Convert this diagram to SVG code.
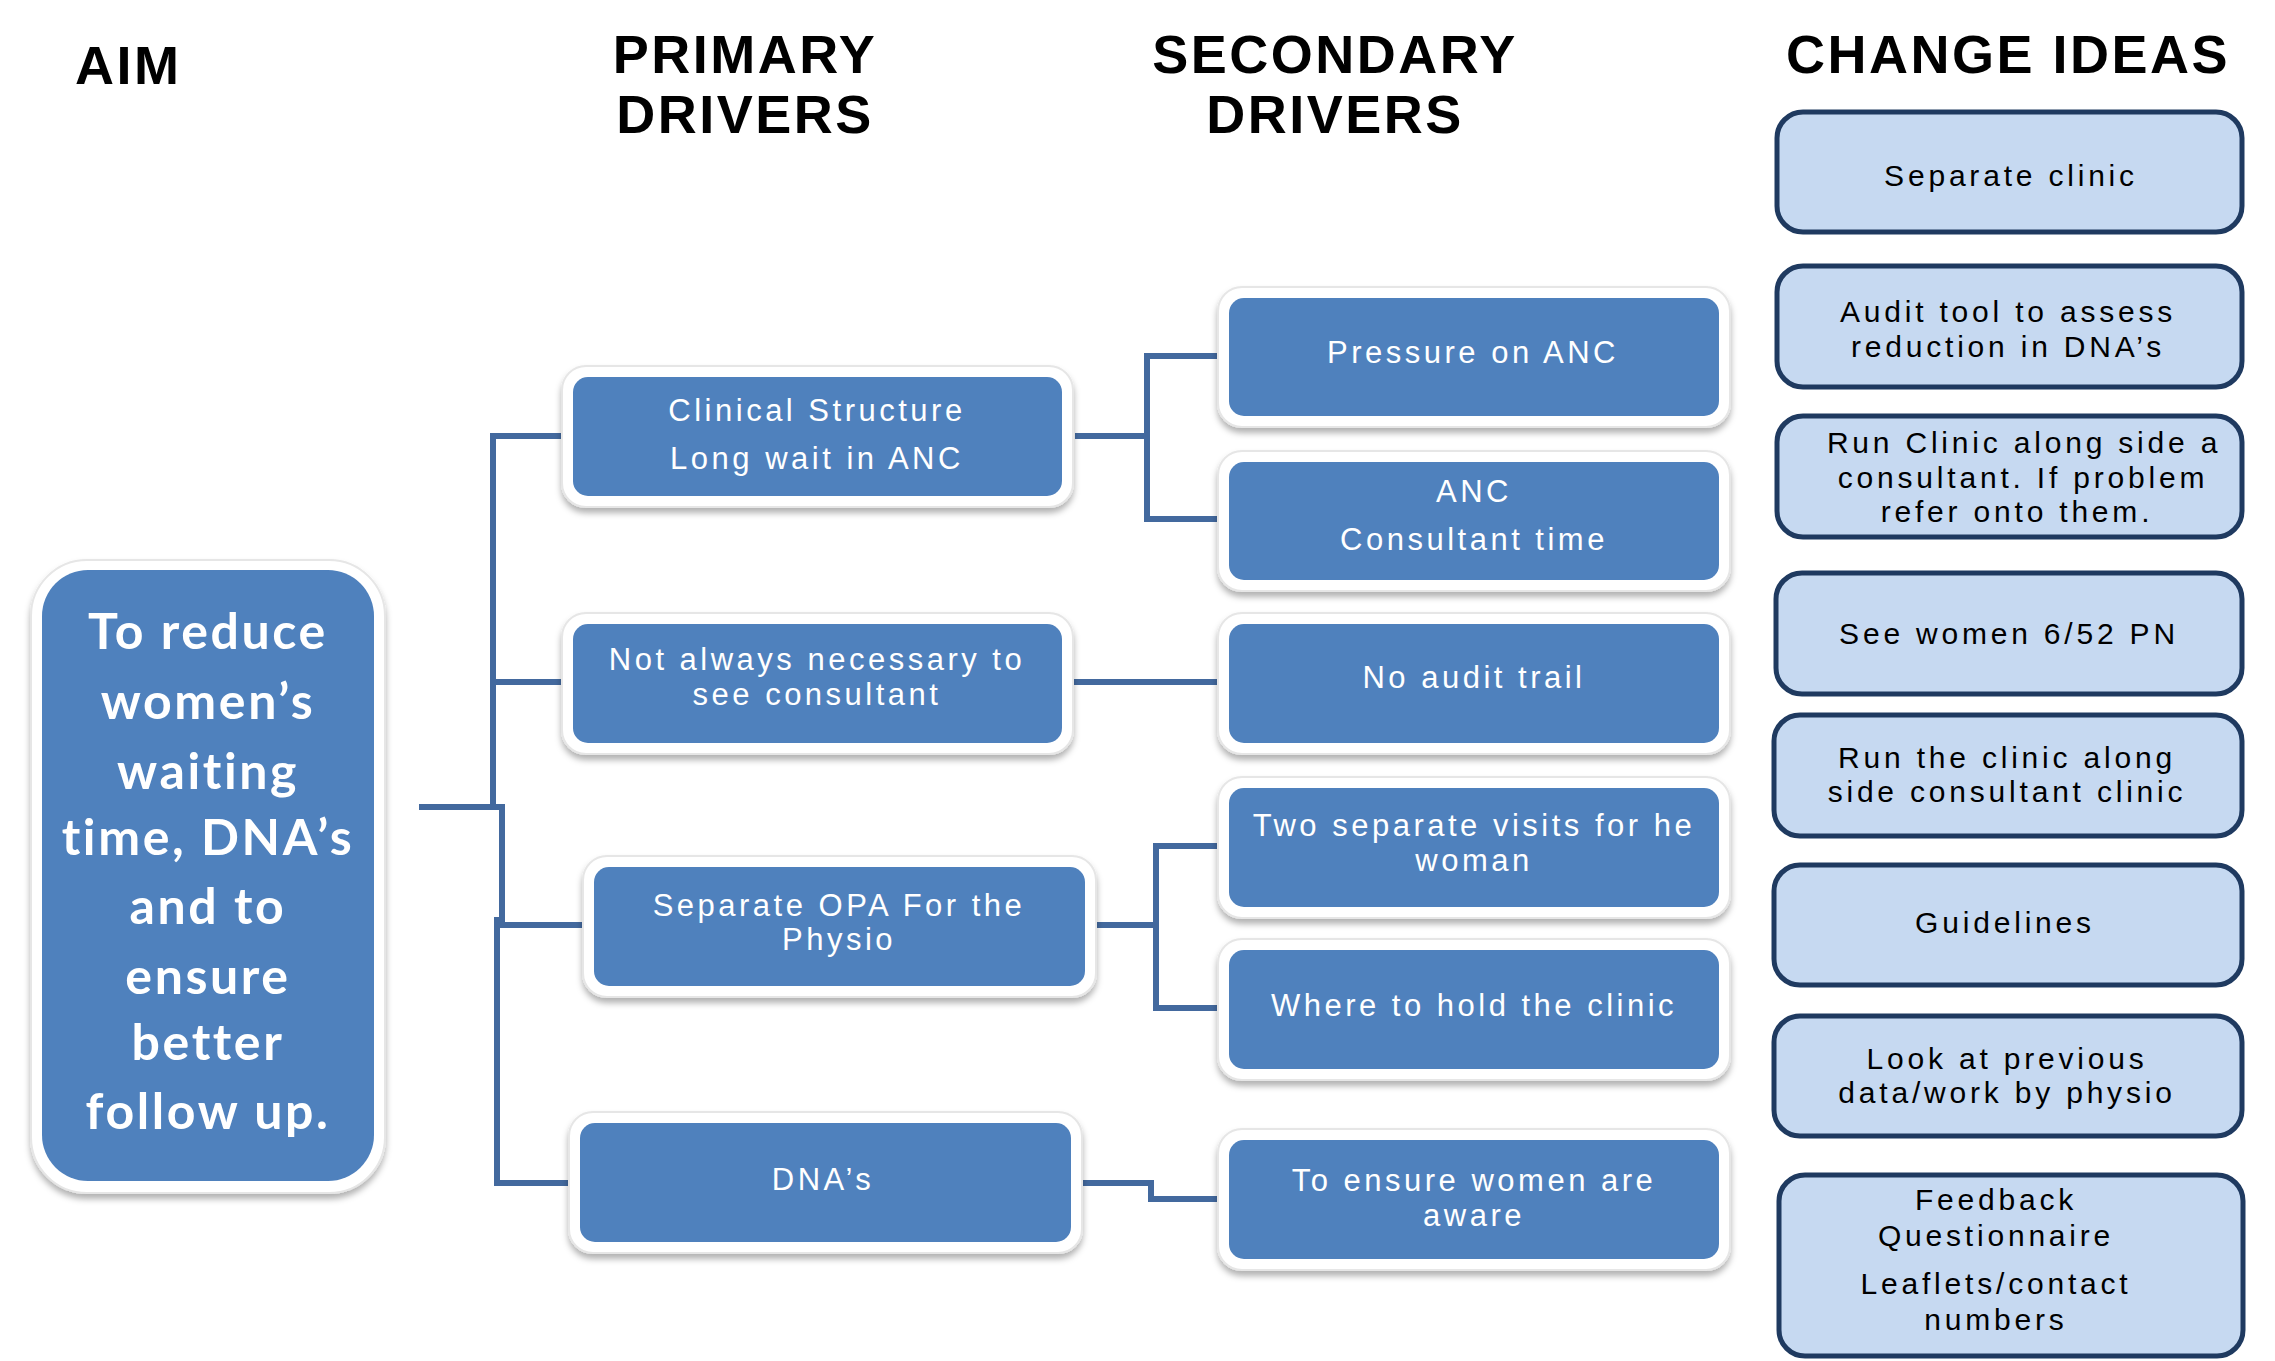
<svg xmlns="http://www.w3.org/2000/svg" width="2275" height="1361" viewBox="0 0 2275 1361">
<defs>
<filter id="sh" x="-10%" y="-10%" width="120%" height="130%">
<feDropShadow dx="0" dy="5" stdDeviation="3" flood-color="#000" flood-opacity="0.3"/>
</filter>
<style>
.hdr{font-family:"Liberation Sans",Arial,sans-serif;font-weight:bold;font-size:54px;letter-spacing:2.5px;fill:#000;}
.outer{fill:#fff;stroke:#e6e6e6;stroke-width:2;filter:url(#sh);}
.blue{fill:#4f81bd;}
.wt{font-family:"Liberation Sans",Arial,sans-serif;font-size:31px;fill:#fff;letter-spacing:3.5px;text-anchor:middle;}
.aimt{font-family:Lato,"Open Sans",sans-serif;font-weight:bold;font-size:50px;fill:#fff;letter-spacing:2.6px;text-anchor:middle;}
.idea{fill:#c6d9f1;stroke:#1f3a60;stroke-width:5;}
.bt{font-family:"Liberation Sans",Arial,sans-serif;font-size:30px;fill:#000;letter-spacing:3.8px;text-anchor:middle;}
.con{fill:none;stroke:#43699e;stroke-width:6;}
</style>
</defs>
<rect width="2275" height="1361" fill="#fff"/>

<g id="headers">
<text class="hdr" x="75" y="84">AIM</text>
<text class="hdr" x="745" y="73" text-anchor="middle">PRIMARY</text>
<text class="hdr" x="745" y="133" text-anchor="middle">DRIVERS</text>
<text class="hdr" x="1335" y="73" text-anchor="middle">SECONDARY</text>
<text class="hdr" x="1335" y="133" text-anchor="middle">DRIVERS</text>
<text class="hdr" x="2008" y="73" text-anchor="middle">CHANGE IDEAS</text>
</g>

<g id="connectors">
<path class="con" d="M419,807 H493 V436 H562"/>
<path class="con" d="M493,800 V682 H562"/>
<path class="con" d="M493,807 H502 V925 H584"/>
<path class="con" d="M502,920 H497 V1183 H568"/>
<path class="con" d="M1075,436 H1147 V356 H1218"/>
<path class="con" d="M1147,436 V519 H1218"/>
<path class="con" d="M1074,682 H1218"/>
<path class="con" d="M1097,925 H1156 V846 H1218"/>
<path class="con" d="M1156,925 V1008 H1218"/>
<path class="con" d="M1083,1183 H1151 V1199 H1218"/>
</g>

<g id="aim">
<rect class="outer" x="31" y="560" width="354" height="633" rx="56"/>
<rect class="blue" x="42" y="570" width="332" height="611" rx="46"/>
<text class="aimt" x="208" y="649">To reduce</text>
<text class="aimt" x="208" y="719">women’s</text>
<text class="aimt" x="208" y="789">waiting</text>
<text class="aimt" x="208" y="855">time, DNA’s</text>
<text class="aimt" x="208" y="924">and to</text>
<text class="aimt" x="208" y="994">ensure</text>
<text class="aimt" x="208" y="1060">better</text>
<text class="aimt" x="208" y="1129">follow up.</text>
</g>

<g id="p1">
<rect class="outer" x="562" y="366" width="511" height="141" rx="24"/>
<rect class="blue" x="573" y="377" width="489" height="119" rx="15"/>
<text class="wt" x="817" y="421">Clinical  Structure</text>
<text class="wt" x="817" y="469">Long wait in ANC</text>
</g>
<g id="p2">
<rect class="outer" x="562" y="613" width="511" height="141" rx="24"/>
<rect class="blue" x="573" y="624" width="489" height="119" rx="15"/>
<text class="wt" x="817" y="670">Not always  necessary to</text>
<text class="wt" x="817" y="705">see consultant</text>
</g>
<g id="p3">
<rect class="outer" x="583" y="856" width="513" height="141" rx="24"/>
<rect class="blue" x="594" y="867" width="491" height="119" rx="15"/>
<text class="wt" x="839" y="916">Separate OPA For the</text>
<text class="wt" x="839" y="950">Physio</text>
</g>
<g id="p4">
<rect class="outer" x="569" y="1112" width="513" height="141" rx="24"/>
<rect class="blue" x="580" y="1123" width="491" height="119" rx="15"/>
<text class="wt" x="823" y="1190">DNA’s</text>
</g>

<g id="s1">
<rect class="outer" x="1218" y="287" width="512" height="140" rx="24"/>
<rect class="blue" x="1229" y="298" width="490" height="118" rx="15"/>
<text class="wt" x="1473" y="363">Pressure on ANC</text>
</g>
<g id="s2">
<rect class="outer" x="1218" y="451" width="512" height="140" rx="24"/>
<rect class="blue" x="1229" y="462" width="490" height="118" rx="15"/>
<text class="wt" x="1474" y="502">ANC</text>
<text class="wt" x="1474" y="550">Consultant time</text>
</g>
<g id="s3">
<rect class="outer" x="1218" y="613" width="512" height="141" rx="24"/>
<rect class="blue" x="1229" y="624" width="490" height="119" rx="15"/>
<text class="wt" x="1474" y="688">No  audit trail</text>
</g>
<g id="s4">
<rect class="outer" x="1218" y="777" width="512" height="141" rx="24"/>
<rect class="blue" x="1229" y="788" width="490" height="119" rx="15"/>
<text class="wt" x="1474" y="836">Two separate visits for he</text>
<text class="wt" x="1474" y="871">woman</text>
</g>
<g id="s5">
<rect class="outer" x="1218" y="939" width="512" height="141" rx="24"/>
<rect class="blue" x="1229" y="950" width="490" height="119" rx="15"/>
<text class="wt" x="1474" y="1016">Where to hold the clinic</text>
</g>
<g id="s6">
<rect class="outer" x="1218" y="1129" width="512" height="141" rx="24"/>
<rect class="blue" x="1229" y="1140" width="490" height="119" rx="15"/>
<text class="wt" x="1474" y="1191">To ensure women are</text>
<text class="wt" x="1474" y="1226">aware</text>
</g>

<g id="c1">
<rect class="idea" x="1777" y="112" width="465" height="120" rx="26"/>
<text class="bt" x="2011" y="186">Separate clinic</text>
</g>
<g id="c2">
<rect class="idea" x="1777" y="266" width="465" height="121" rx="26"/>
<text class="bt" x="2008" y="322">Audit tool to assess</text>
<text class="bt" x="2008" y="357">reduction in DNA’s</text>
</g>
<g id="c3">
<rect class="idea" x="1777" y="416" width="465" height="121" rx="26"/>
<text class="bt" x="2024" y="453">Run Clinic along side a</text>
<text class="bt" x="2023" y="488">consultant. If problem</text>
<text class="bt" x="2017" y="522">refer onto them.</text>
</g>
<g id="c4">
<rect class="idea" x="1776" y="573" width="466" height="121" rx="26"/>
<text class="bt" x="2009" y="644">See women 6/52 PN</text>
</g>
<g id="c5">
<rect class="idea" x="1774" y="715" width="468" height="121" rx="26"/>
<text class="bt" x="2007" y="768">Run the clinic along</text>
<text class="bt" x="2007" y="802">side consultant clinic</text>
</g>
<g id="c6">
<rect class="idea" x="1774" y="865" width="468" height="120" rx="26"/>
<text class="bt" x="2005" y="933">Guidelines</text>
</g>
<g id="c7">
<rect class="idea" x="1774" y="1016" width="468" height="120" rx="26"/>
<text class="bt" x="2007" y="1069">Look at previous</text>
<text class="bt" x="2007" y="1103">data/work by physio</text>
</g>
<g id="c8">
<rect class="idea" x="1779" y="1175" width="464" height="181" rx="26"/>
<text class="bt" x="1996" y="1210">Feedback</text>
<text class="bt" x="1996" y="1246">Questionnaire</text>
<text class="bt" x="1996" y="1294">Leaflets/contact</text>
<text class="bt" x="1996" y="1330">numbers</text>
</g>
</svg>
